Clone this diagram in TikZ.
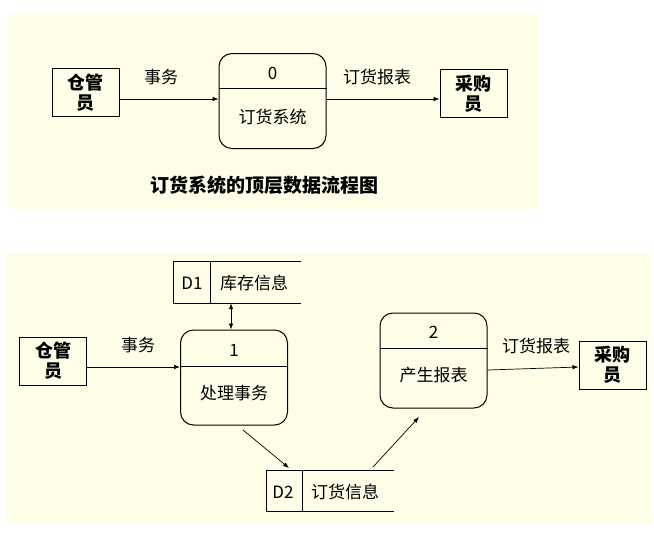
\documentclass[tikz,border=0pt]{standalone}
\usepackage{fontspec}
\setmainfont{Noto Sans CJK SC}
\usetikzlibrary{arrows.meta}
\definecolor{bg}{RGB}{253,253,232}
\begin{document}
\begin{tikzpicture}[x=1pt,y=-1pt,
  ext/.style={draw, line width=1pt, minimum width=67pt, minimum height=48pt, inner sep=0pt,
    font=\fontsize{18}{20}\selectfont\bfseries, align=center},
  proc/.style={draw, rounded corners=13pt, line width=1pt, minimum width=107pt, minimum height=95pt, inner sep=0pt},
  store/.style={minimum width=127pt, minimum height=41pt, inner sep=0pt},
  lbl/.style={font=\fontsize{17}{19}\selectfont, inner sep=0pt},
  flow/.style={-{Latex[length=6pt,width=4.5pt]}, line width=0.7pt},
  dflow/.style={{Latex[length=6pt,width=4.5pt]}-{Latex[length=6pt,width=4.5pt]}, line width=0.7pt},
  line/.style={line width=1pt}
]
\useasboundingbox (0,0) rectangle (654,539);
\fill[bg] (8,13) rectangle (539,209);
\fill[bg] (6,254) rectangle (652,524);

% ---- top diagram ----
\node[ext] (wk0) at (85.5,92.5) {仓管\\员};
\node[proc] (p0) at (272.5,101) {};
\draw[line] (p0.west |- 0,88) -- (p0.east |- 0,88);
\node[lbl] (p0n) at (272.5,73) {0};
\node[lbl] (p0t) at (272.5,117) {订货系统};
\node[ext] (cg0) at (473.5,93.5) {采购\\员};
\draw[flow] (wk0.east |- 0,99) -- (p0.west |- 0,99);
\draw[flow] (p0.east |- 0,99) -- (cg0.west |- 0,99);
\node[lbl] (l0a) at (161,77) {事务};
\node[lbl] (l0b) at (377,77) {订货报表};
\node[font=\fontsize{19}{21}\selectfont\bfseries, inner sep=0pt] (cap) at (264,185) {订货系统的顶层数据流程图};

% ---- bottom diagram ----
\node[ext] (wk1) at (53,361) {仓管\\员};
\node[proc] (p1) at (234,377.5) {};
\draw[line] (p1.west |- 0,366) -- (p1.east |- 0,366);
\node[lbl] (p1n) at (234,350) {1};
\node[lbl] (p1t) at (234,393) {处理事务};

\node[proc] (p2) at (433.5,360.5) {};
\draw[line] (p2.west |- 0,348) -- (p2.east |- 0,348);
\node[lbl] (p2n) at (433.5,332) {2};
\node[lbl] (p2t) at (433.5,375) {产生报表};

\node[ext] (cg1) at (612.5,365) {采购\\员};

\node[store] (d1) at (237.5,282.5) {};
\draw[line] (d1.north east) -- (d1.north west) -- (d1.south west) -- (d1.south east);
\draw[line] (210,0 |- d1.north) -- (210,0 |- d1.south);
\node[lbl] (d1a) at (192,283) {D1};
\node[lbl] (d1b) at (254,283) {库存信息};

\node[store] (d2) at (330,491) {};
\draw[line] (d2.north east) -- (d2.north west) -- (d2.south west) -- (d2.south east);
\draw[line] (302,0 |- d2.north) -- (302,0 |- d2.south);
\node[lbl] (d2a) at (283,492) {D2};
\node[lbl] (d2b) at (345,492) {订货信息};

\draw[flow] (wk1.east |- 0,367) -- (p1.west |- 0,367);
\node[lbl] (l1a) at (138,345) {事务};
\draw[dflow] (231,0 |- d1.south) -- (231,0 |- p1.north);
\coordinate (a1) at (243,430);
\coordinate (a2) at (289,468);
\draw[flow] (a1) -- (a2);
\coordinate (b1) at (373,467);
\coordinate (b2) at (419,417);
\draw[flow] (b1) -- (b2);
\draw[flow] (p2.east |- 0,370) -- (cg1.west |- 0,367);
\node[lbl] (l1b) at (536,346) {订货报表};
\end{tikzpicture}
\end{document}
